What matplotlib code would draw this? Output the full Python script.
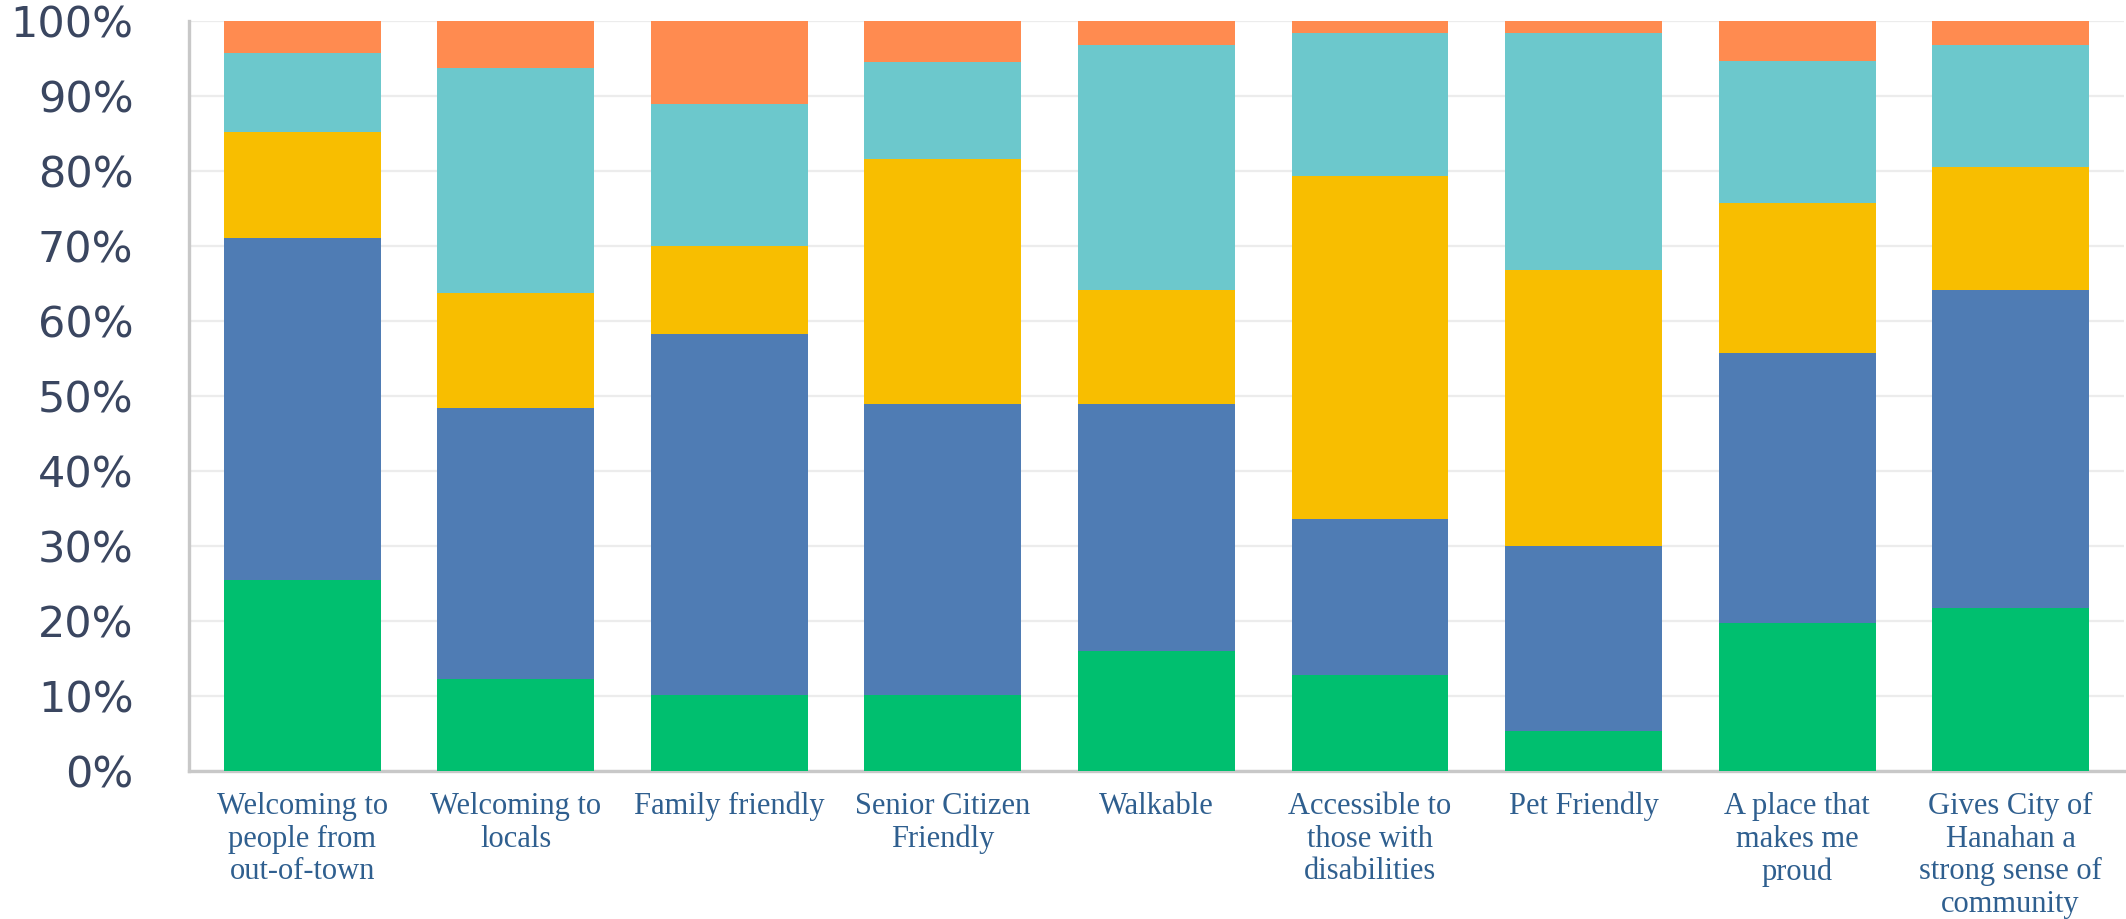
import matplotlib
matplotlib.use("Agg")
import matplotlib.pyplot as plt
import numpy as np

categories = ["Welcoming to\npeople from\nout-of-town",
              "Welcoming to\nlocals",
              "Family friendly",
              "Senior Citizen\nFriendly",
              "Walkable",
              "Accessible to\nthose with\ndisabilities",
              "Pet Friendly",
              "A place that\nmakes me\nproud",
              "Gives City of\nHanahan a\nstrong sense of\ncommunity"]

# stacked shares in percent, bottom to top
green = [25.5, 12.3, 10.2, 10.2, 16.0, 12.8, 5.4, 19.7, 21.8]
blue = [45.6, 36.1, 48.1, 38.7, 32.9, 20.8, 24.6, 36.1, 42.4]
yellow = [14.1, 15.3, 11.7, 32.7, 15.3, 45.8, 36.8, 19.9, 16.3]
teal = [10.5, 30.0, 19.0, 13.0, 32.6, 19.0, 31.6, 19.0, 16.3]
orange = [4.3, 6.3, 11.0, 5.4, 3.2, 1.6, 1.6, 5.3, 3.2]

series = [green, blue, yellow, teal, orange]
colors = ["#00bf6f", "#4f7cb4", "#f8be00", "#6cc8cc", "#ff8b50"]

fig = plt.figure(figsize=(21.26, 9.19), dpi=100)
ax = fig.add_axes([0.0889, 0.161, 0.9101, 0.816])

x = np.arange(len(categories))
bottom = np.zeros(len(categories))
for vals, col in zip(series, colors):
    ax.bar(x, vals, width=0.735, bottom=bottom, color=col, zorder=3)
    bottom += np.array(vals)

ax.set_xlim(-0.53, 8.53)
ax.set_ylim(0, 100)
ax.set_yticks(np.arange(0, 101, 10))
ax.set_yticklabels([f"{v}%" for v in range(0, 101, 10)],
                   fontsize=31, color="#3a4660", family="DejaVu Sans")
ax.set_xticks(x)
ax.set_xticklabels(categories, fontsize=22, color="#2f5f8f",
                   family="Liberation Serif", linespacing=1.17)
ax.tick_params(axis="y", length=0, pad=40)
ax.tick_params(axis="x", length=0, pad=15)

ax.grid(axis="y", color="#ececec", linewidth=1.6, zorder=0)
ax.set_axisbelow(True)
for s in ["top", "right"]:
    ax.spines[s].set_visible(False)
for s in ["left", "bottom"]:
    ax.spines[s].set_color("#c8c8c8")
    ax.spines[s].set_linewidth(2.4)

fig.savefig("out.png", dpi=100)
